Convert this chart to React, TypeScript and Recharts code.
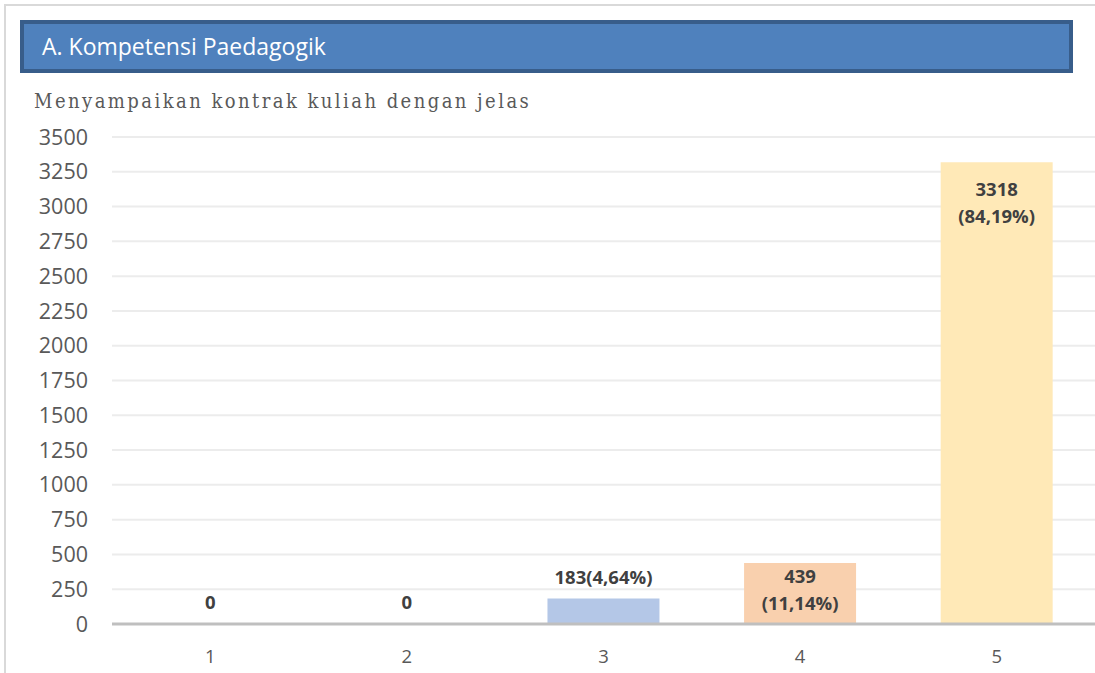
import { Bar, BarChart, CartesianGrid, Cell, LabelList, XAxis, YAxis } from "recharts";

const categories = ["1", "2", "3", "4", "5"];
const counts = [0, 0, 183, 439, 3318];
const labelLines = [["0"], ["0"], ["183(4,64%)"], ["439", "(11,14%)"], ["3318", "(84,19%)"]];
const yTicks = [0, 250, 500, 750, 1000, 1250, 1500, 1750, 2000, 2250, 2500, 2750, 3000, 3250, 3500];
const barColors = ["#B4C7E7", "#B4C7E7", "#B4C7E7", "#F9D0AE", "#FFE9B7"];

const data = categories.map((name, i) => ({ name, value: counts[i] }));

const FONT = "'Open Sans', 'Noto Sans', sans-serif";

function BarLabel(props: any) {
  const { x, y, width, height, value } = props;
  const idx = categories.indexOf(String(value));
  const lines: string[] = labelLines[idx] ?? [];
  const cx = x + width / 2;
  const inside = lines.length > 1;
  // single-line labels sit above the bar, two-line labels go inside the top
  const startY = inside ? y + (height > 100 ? 26 : 13) : y - 22;
  return (
    <g>
      {lines.map((t, i) => (
        <text
          key={i}
          x={cx}
          y={startY + i * 27}
          textAnchor="middle"
          dominantBaseline="central"
          fontFamily={FONT}
          fontWeight={700}
          fontSize={18.5}
          fill="#404040"
        >
          {t}
        </text>
      ))}
    </g>
  );
}

export default function App() {
  return (
    <div style={{ position: "absolute", left: 0, top: 0, width: 1095, height: 673, background: "#fff", overflow: "hidden" }}>
      <div style={{ position: "absolute", left: 4, top: 4, width: 1091, height: 669, borderTop: "2px solid #D9D9D9", borderLeft: "2px solid #D9D9D9" }} />
      <div
        style={{
          position: "absolute",
          left: 20,
          top: 20,
          width: 1027,
          height: 45,
          background: "#4F81BD",
          border: "4px solid #385D8A",
          color: "#fff",
          fontFamily: FONT,
          fontSize: 23,
          lineHeight: "45px",
          paddingLeft: 18,
        }}
      >
        A. Kompetensi Paedagogik
      </div>
      <div
        style={{
          position: "absolute",
          left: 34,
          top: 89,
          fontFamily: "'DejaVu Serif Condensed', 'DejaVu Serif', serif",
          fontSize: 20,
          letterSpacing: 2.45,
          color: "#595959",
          whiteSpace: "nowrap",
        }}
      >
        Menyampaikan kontrak kuliah dengan jelas
      </div>
      <div style={{ position: "absolute", left: 0, top: 0 }}>
        <BarChart
          width={1095}
          height={673}
          data={data}
          margin={{ top: 137, right: 0, left: 0, bottom: 19 }}
          barCategoryGap="21.5%"
        >
          <CartesianGrid vertical={false} stroke="#ECECEC" strokeWidth={2} />
          <XAxis
            dataKey="name"
            height={30}
            tickLine={false}
            axisLine={{ stroke: "#BFBFBF", strokeWidth: 3 }}
            tickMargin={20}
            tick={{ fill: "#595959", fontSize: 18.5, fontFamily: FONT }}
          />
          <YAxis
            width={112}
            domain={[0, 3500]}
            ticks={yTicks}
            interval={0}
            tickLine={false}
            axisLine={false}
            tickMargin={18}
            tick={{ fill: "#595959", fontSize: 21.5, fontFamily: FONT }}
          />
          <Bar dataKey="value" isAnimationActive={false} minPointSize={1}>
            {data.map((d, i) => (
              <Cell key={d.name} fill={d.value === 0 ? "transparent" : barColors[i]} />
            ))}
            <LabelList dataKey="name" content={BarLabel} />
          </Bar>
        </BarChart>
      </div>
    </div>
  );
}
